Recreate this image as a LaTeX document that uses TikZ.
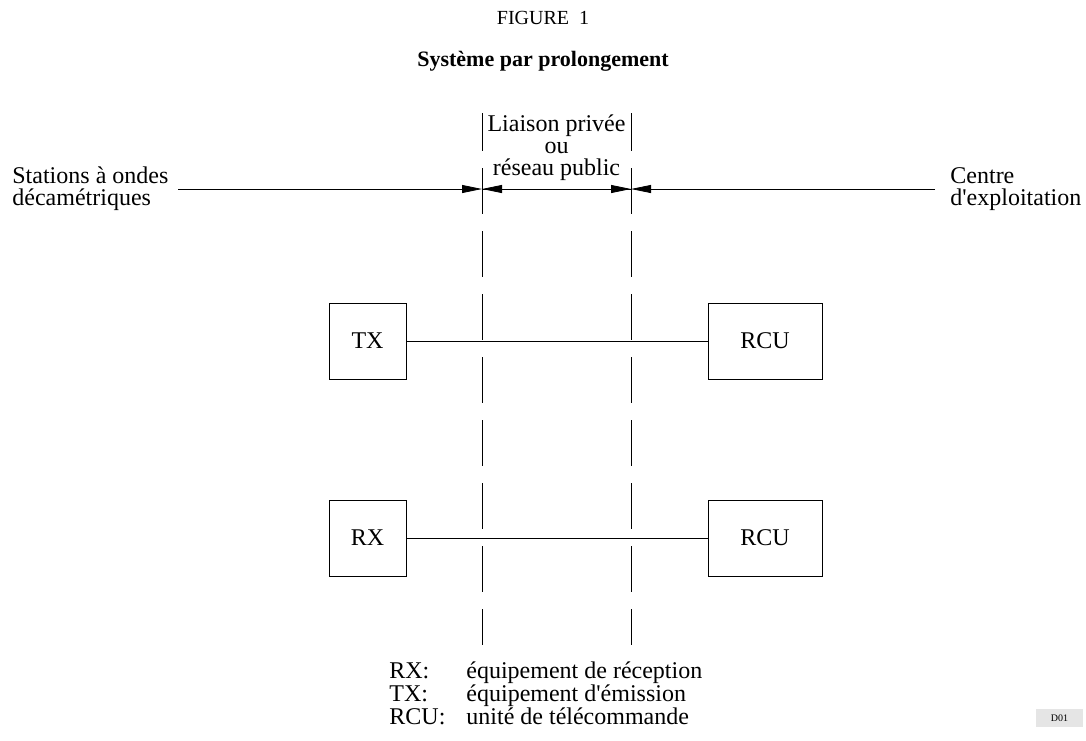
\documentclass[tikz,border=0pt]{standalone}
\usepackage{fontspec}
\setmainfont{Liberation Serif}
\usetikzlibrary{arrows.meta}

\begin{document}
\begin{tikzpicture}[x=0.5pt,y=-0.5pt,
  txt/.style={inner sep=0pt, font=\fontsize{12}{11}\selectfont},
  unit/.style={draw, inner sep=0pt, minimum height=38pt, font=\fontsize{12}{11}\selectfont},
  bound/.style={dash pattern=on 23pt off 8.5pt, dash phase=4pt},
  tip/.style={-{Triangle[length=10pt,width=4pt]}}]
\useasboundingbox (0,0) rectangle (1086,740);

% titles
\node [txt, font=\fontsize{10}{12}\selectfont] (fig) at (543,18) {FIGURE\ \ 1};
\node [txt, font=\fontsize{11}{13}\selectfont\bfseries] (title) at (543,61) {Système par prolongement};

% boundaries of the private link
\coordinate (ltop) at (482,113);
\coordinate (lbot) at (482,645);
\coordinate (rtop) at (631,113);
\coordinate (rbot) at (631,645);
\draw [bound] (ltop) -- (lbot);
\draw [bound] (rtop) -- (rbot);

\coordinate (a) at (178,189);
\coordinate (b) at (482,189);
\coordinate (c) at (631,189);
\coordinate (d) at (935,189);
\draw [tip] (a) -- (b);
\draw [tip] (c) -- (b);
\draw [tip] (b) -- (c);
\draw [tip] (d) -- (c);

\node [txt, anchor=west, align=left] (hf) at (12,189) {Stations à ondes\\décamétriques};
\node [txt, anchor=west, align=left] (centre) at (950,189) {Centre\\d\textquotesingle exploitation};
\node [txt, align=center] (link) at (556.5,148) {Liaison privée\\ou\\réseau public};

% equipment
\node [unit, minimum width=38.5pt] (tx) at (367.5,341) {TX};
\node [unit, minimum width=57pt] (rcu1) at (765,341) {RCU};
\node [unit, minimum width=38.5pt] (rx) at (367.5,538) {RX};
\node [unit, minimum width=57pt] (rcu2) at (765,538) {RCU};
\draw (tx) -- (rcu1);
\draw (rx) -- (rcu2);

% legend
\node [txt, anchor=west] (legend) at (389,696) {\fontsize{12}{10}\selectfont
\begin{tabular}{@{}l@{\hspace{10.5pt}}l@{}}
RX: & équipement de réception\\
TX: & équipement d\textquotesingle émission\\
RCU: & unité de télécommande
\end{tabular}};

\node [fill=black!10, inner sep=0pt, minimum width=23.5pt, minimum height=9pt,
  font=\fontsize{5}{6}\selectfont] (ref) at (1059.5,718) {D01};
\end{tikzpicture}
\end{document}
